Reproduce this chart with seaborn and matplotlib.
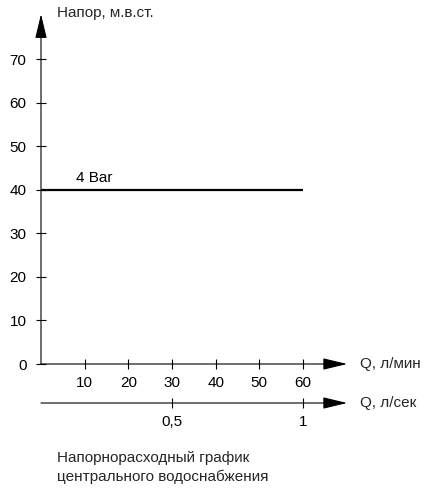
import matplotlib
matplotlib.use("Agg")
import matplotlib.pyplot as plt
import seaborn as sns
import pandas as pd

# data
flow_lpm = [0, 60]          # Q, l/min
head_m = [40, 40]           # 4 bar line, m water column
y_ticks = [0, 10, 20, 30, 40, 50, 60, 70]
x_ticks = [10, 20, 30, 40, 50, 60]
sec_ticks = [0.5, 1]
sec_labels = ["0,5", "1"]

sns.set_theme(style="white")
plt.rcParams['font.family'] = ['Liberation Sans', 'DejaVu Sans']

W, H = 434, 493
FS = 11
fig = plt.figure(figsize=(W / 100, H / 100), dpi=100)
# axes placed so that x 0..60 -> px 41..303, y 0..70 -> px 364..59
ax = fig.add_axes([41 / W, (H - 364) / H, 262 / W, 305 / H])
ax.set_xlim(0, 60)
ax.set_ylim(0, 70)
for s in ax.spines.values():
    s.set_visible(False)

df = pd.DataFrame({"q": flow_lpm, "h": head_m})
sns.lineplot(data=df, x="q", y="h", ax=ax, color="black", linewidth=1.6)
ax.text(8, 42.6, "4 Bar", fontsize=FS, va="center", ha="left", color="black")

ax.set_xticks(x_ticks)
ax.set_yticks(y_ticks)
ax.set_xlabel("")
ax.set_ylabel("")
ax.tick_params(axis="both", which="both", direction="inout", length=7, width=0.8,
               colors="black", labelsize=FS, bottom=True, left=True)
ax.tick_params(axis="x", pad=5)
ax.tick_params(axis="y", pad=7)

arrow = dict(arrowstyle="-|>,head_length=1.5,head_width=0.36", mutation_scale=10,
             color="black", lw=0.8, shrinkA=0, shrinkB=0)
ax.annotate("", xy=(0, 80.3), xytext=(0, 0), arrowprops=arrow, annotation_clip=False)
ax.annotate("", xy=(70.1, 0), xytext=(0, 0), arrowprops=arrow, annotation_clip=False)
ax.annotate("", xy=(70.1, -8.95), xytext=(0, -8.95), arrowprops=arrow, annotation_clip=False)

# second x axis in l/sec
sec = ax.secondary_xaxis(-8.95 / 70, functions=(lambda x: x / 60, lambda x: x * 60))
sec.set_xticks(sec_ticks)
sec.set_xticklabels(sec_labels)
sec.spines["bottom"].set_visible(False)
sec.tick_params(axis="x", direction="inout", length=7, width=0.8, colors="black",
                labelsize=FS, pad=5)

def px(x, y):
    return x / W, 1 - y / H

fig.text(*px(57, 13), "Напор, м.в.ст.", fontsize=FS, va="center", ha="left")
fig.text(*px(360, 364), "Q, л/мин", fontsize=FS, va="center", ha="left")
fig.text(*px(360, 403), "Q, л/сек", fontsize=FS, va="center", ha="left")
fig.text(*px(57, 458), "Напорнорасходный график", fontsize=FS, va="center", ha="left")
fig.text(*px(57, 477), "центрального водоснабжения", fontsize=FS, va="center", ha="left")

fig.savefig("out.png", dpi=100, facecolor="white")
